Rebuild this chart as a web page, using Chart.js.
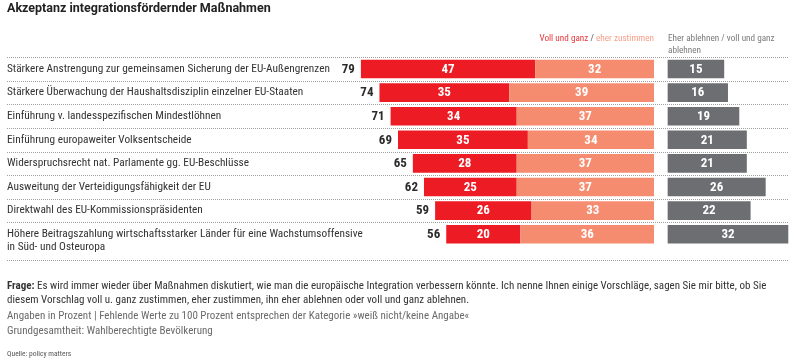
<!DOCTYPE html>
<html lang="de">
<head>
<meta charset="utf-8">
<title>Akzeptanz integrationsfördernder Maßnahmen</title>
<script src="https://cdn.jsdelivr.net/npm/chart.js@4.4.1/dist/chart.umd.min.js"></script>
<style>
  body { margin: 0; background: #fff; }
  #wrap { position: relative; width: 795px; height: 364px; overflow: hidden; font-family: "Roboto Condensed", Roboto, sans-serif; }
  #wrap canvas { position: absolute; left: 0; top: 0; }
  .txt { position: absolute; white-space: nowrap; }
  #title { left: 7px; top: 0px; font: bold 12.5px Roboto, sans-serif; color: #222; line-height: 16px; }
  #legAgree { right: 141px; top: 32px; font-size: 9.2px; line-height: 11px; }
  #legReject { left: 668px; top: 32px; font-size: 9.2px; line-height: 11.5px; color: #7a7a7a; }
  #frage { left: 7px; top: 279px; font-size: 11px; line-height: 14px; color: #333; }
  #notes { left: 7px; top: 309px; font-size: 11px; line-height: 14.5px; color: #6a6a6a; }
  #quelle { left: 7px; top: 349px; font-size: 7.5px; line-height: 10px; color: #555; }
</style>
</head>
<body>
<div id="wrap">
  <canvas id="chart" width="795" height="364"></canvas>
  <div class="txt" id="title">Akzeptanz integrationsfördernder Maßnahmen</div>
  <div class="txt" id="legAgree"><span style="color:#e8383e">Voll und ganz</span> <span style="color:#555">/</span> <span style="color:#f6a08a">eher zustimmen</span></div>
  <div class="txt" id="legReject">Eher ablehnen / voll und ganz<br>ablehnen</div>
  <div class="txt" id="frage"><b>Frage:</b> Es wird immer wieder über Maßnahmen diskutiert, wie man die europäische Integration verbessern könnte. Ich nenne Ihnen einige Vorschläge, sagen Sie mir bitte, ob Sie<br>diesem Vorschlag voll u. ganz zustimmen, eher zustimmen, ihn eher ablehnen oder voll und ganz ablehnen.</div>
  <div class="txt" id="notes">Angaben in Prozent | Fehlende Werte zu 100 Prozent entsprechen der Kategorie »weiß nicht/keine Angabe«<br>Grundgesamtheit: Wahlberechtigte Bevölkerung</div>
  <div class="txt" id="quelle">Quelle: policy matters</div>
</div>
<script>
const categories = [
  'Stärkere Anstrengung zur gemeinsamen Sicherung der EU-Außengrenzen',
  'Stärkere Überwachung der Haushaltsdisziplin einzelner EU-Staaten',
  'Einführung v. landesspezifischen Mindestlöhnen',
  'Einführung europaweiter Volksentscheide',
  'Widerspruchsrecht nat. Parlamente gg. EU-Beschlüsse',
  'Ausweitung der Verteidigungsfähigkeit der EU',
  'Direktwahl des EU-Kommissionspräsidenten',
  ['Höhere Beitragszahlung wirtschaftsstarker Länder für eine Wachstumsoffensive', 'in Süd- und Osteuropa'],
];
const vollUndGanz = [47, 35, 34, 35, 28, 25, 26, 20];
const eherZustimmen = [32, 39, 37, 34, 37, 37, 33, 36];
const ablehnen = [15, 16, 19, 21, 21, 26, 22, 32];

const RED = '#ed1c24';
const SALMON = '#f58c70';
const GREY = '#6d6e71';

// dotted separators, row labels, totals and values
const rowDecor = {
  id: 'rowDecor',
  beforeDatasetsDraw(chart) {
    const { ctx } = chart;
    const y = chart.scales.y;
    const band = y.getPixelForValue(1) - y.getPixelForValue(0);
    ctx.save();
    ctx.strokeStyle = '#a0a0a0';
    ctx.lineWidth = 1;
    ctx.setLineDash([1, 1]);
    const lines = categories.map((_, i) => y.getPixelForValue(i) - band / 2);
    lines.push(y.getPixelForValue(categories.length - 1) + band / 2 + 14);
    lines.forEach(py => {
      const yy = Math.round(py) + 0.5;
      ctx.beginPath();
      ctx.moveTo(7, yy);
      ctx.lineTo(788, yy);
      ctx.stroke();
    });
    ctx.restore();
  },
  afterDatasetsDraw(chart) {
    const { ctx } = chart;
    const y = chart.scales.y;
    ctx.save();
    ctx.textBaseline = 'middle';

    // category labels
    ctx.fillStyle = '#333';
    ctx.font = '11.3px "Roboto Condensed", Roboto, sans-serif';
    ctx.textAlign = 'left';
    categories.forEach((lab, i) => {
      const py = y.getPixelForValue(i);
      const lines = Array.isArray(lab) ? lab : [lab];
      lines.forEach((l, k) => ctx.fillText(l, 7, py + k * 13));
    });

    // values inside bars
    ctx.font = 'bold 13px "Roboto Condensed", Roboto, sans-serif';
    ctx.textAlign = 'center';
    ctx.fillStyle = '#fff';
    chart.data.datasets.forEach((ds, di) => {
      chart.getDatasetMeta(di).data.forEach((bar, i) => {
        ctx.fillText(String(ds.data[i]), (bar.x + bar.base) / 2, bar.y + 0.5);
      });
    });

    // totals left of the agree bars
    const redMeta = chart.getDatasetMeta(1);
    ctx.fillStyle = '#2b2b2b';
    ctx.textAlign = 'right';
    redMeta.data.forEach((bar, i) => {
      const left = Math.min(bar.x, bar.base);
      ctx.fillText(String(vollUndGanz[i] + eherZustimmen[i]), left - 6, bar.y + 0.5);
    });
    ctx.restore();
  }
};

new Chart(document.getElementById('chart'), {
  type: 'bar',
  data: {
    labels: categories,
    datasets: [
      { label: 'eher zustimmen', data: eherZustimmen, backgroundColor: SALMON, xAxisID: 'x', stack: 'row' },
      { label: 'Voll und ganz', data: vollUndGanz, backgroundColor: RED, xAxisID: 'x', stack: 'row' },
      { label: 'Eher ablehnen / voll und ganz ablehnen', data: ablehnen, backgroundColor: GREY, xAxisID: 'x2', stack: 'row' },
    ],
  },
  options: {
    indexAxis: 'y',
    responsive: false,
    animation: false,
    devicePixelRatio: 1,
    categoryPercentage: 1,
    barPercentage: 0.79,
    layout: { padding: { top: 57.2, bottom: 118, left: 0, right: 0 } },
    scales: {
      y: { display: false },
      // agree side: zero at the right end, 3.71 px per point
      x: { type: 'linear', display: false, stacked: true, reverse: true, min: -38.01, max: 176.28 },
      // reject side: starts just right of the agree bars
      x2: { type: 'linear', display: false, stacked: true, min: -177.1, max: 33.78 },
    },
    plugins: {
      legend: { display: false },
      tooltip: { enabled: false },
    },
  },
  plugins: [rowDecor],
});
</script>
</body>
</html>
